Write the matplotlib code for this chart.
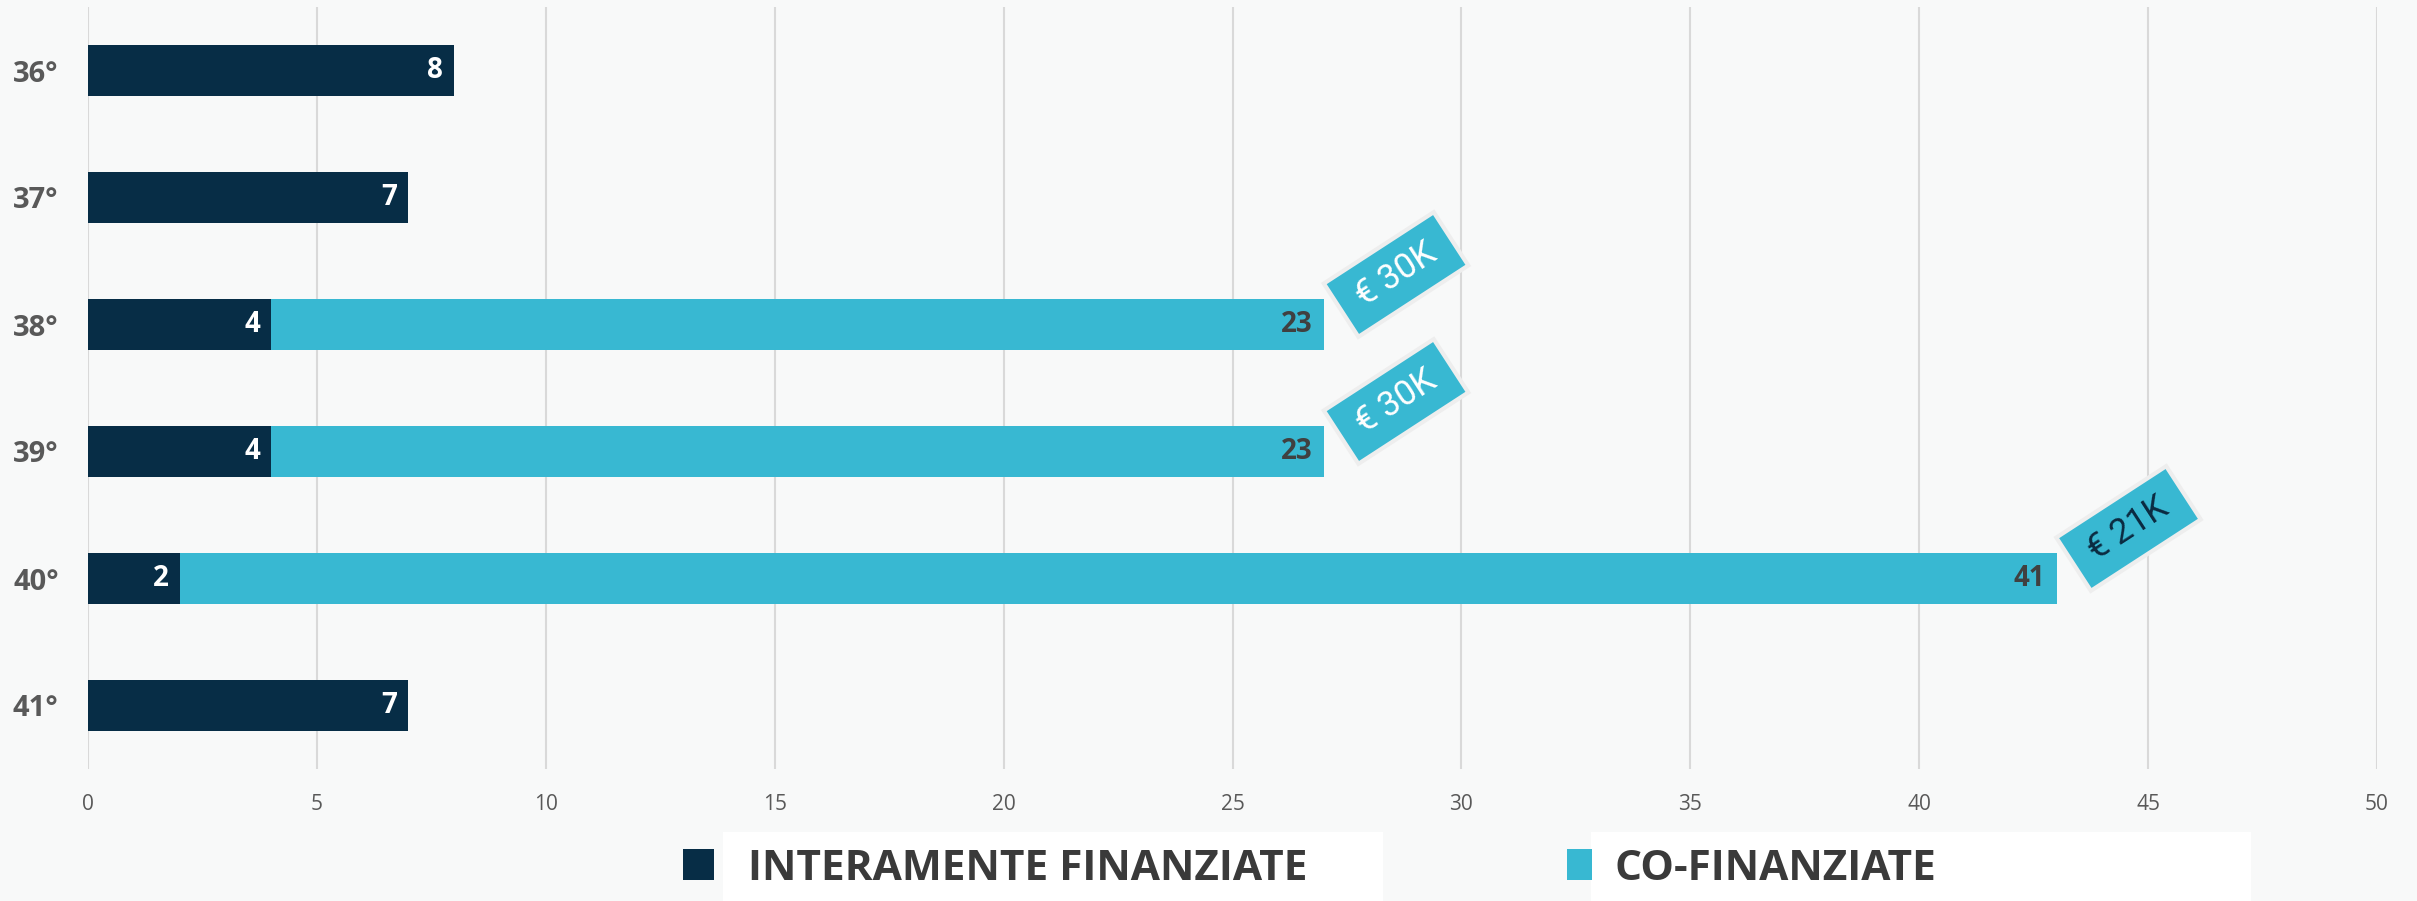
import numpy as np
import matplotlib.pyplot as plt
import matplotlib.transforms as mtransforms
from matplotlib.patches import Rectangle

# data
legislature = ['36°', '37°', '38°', '39°', '40°', '41°']
interamente = [8, 7, 4, 4, 2, 7]
co_finanziate = [0, 0, 23, 23, 41, 0]
tag_labels = ['', '', '€ 30K', '€ 30K', '€ 21K', '']
x_ticks = [0, 5, 10, 15, 20, 25, 30, 35, 40, 45, 50]

NAVY = '#072D46'
CYAN = '#38B8D2'
GRAY = '#595959'
DARK = '#3A3A3A'
BG = '#F8F9F9'

plt.rcParams['font.family'] = ['Open Sans', 'DejaVu Sans']

fig = plt.figure(figsize=(24.17, 9.01), dpi=100, facecolor=BG)
ax = fig.add_axes([88 / 2417, 1 - 769 / 901, (2377 - 88) / 2417, (769 - 7) / 901])
ax.set_facecolor('none')

# white panels behind the legend entries (part of the slide background)
for x0, x1 in [(723, 1383), (1591, 2251)]:
    fig.patches.append(Rectangle((x0 / 2417, 0), (x1 - x0) / 2417, 69 / 901,
                                 transform=fig.transFigure, fc='white', ec='none', zorder=-5))

y = np.arange(len(legislature))
inter = np.array(interamente)
co = np.array(co_finanziate)

b1 = ax.barh(y, inter, height=0.4, color=NAVY, zorder=3, label='INTERAMENTE FINANZIATE')
b2 = ax.barh(y, co, left=inter, height=0.4, color=CYAN, zorder=3, label='CO-FINANZIATE')

ax.set_xlim(0, 50)
ax.set_ylim(5.5, -0.5)
ax.set_xticks(x_ticks)
ax.set_yticks(y)
ax.set_yticklabels(legislature, fontsize=21, fontweight='bold', color=GRAY)
ax.tick_params(axis='y', length=0, pad=21)
ax.tick_params(axis='x', length=0, pad=18, labelsize=15, labelcolor=GRAY)
ax.grid(axis='x', color='#D9D9D9', lw=1.5, zorder=0)
for s in ax.spines.values():
    s.set_visible(False)

# value labels at the end of each segment
for i in range(len(y)):
    ax.annotate(str(inter[i]), (inter[i], y[i]), xytext=(-8, 0), textcoords='offset points',
                ha='right', va='center', fontsize=20, fontweight='bold', color='white', zorder=5)
    if co[i] > 0:
        ax.annotate(str(co[i]), (inter[i] + co[i], y[i]), xytext=(-8, 0), textcoords='offset points',
                    ha='right', va='center', fontsize=20, fontweight='bold', color='#404040', zorder=5)

# rotated price tags next to the co-financed bars
for i, lab in enumerate(tag_labels):
    if not lab:
        continue
    xe = inter[i] + co[i]
    base = mtransforms.ScaledTranslation(xe, y[i], ax.transData)
    off = mtransforms.Affine2D().translate(72, 50)
    tr = mtransforms.Affine2D().rotate_deg(33) + off + base
    tag = Rectangle((-65.5, -31.75), 131, 63.5, transform=tr, fc=CYAN, ec='#EEEEEE',
                    lw=3, clip_on=False, zorder=6)
    ax.add_patch(tag)
    txt_color = 'white' if '30' in lab else '#0B2A40'
    ax.text(0, 0, lab, transform=off + base, rotation=33, rotation_mode='anchor',
            ha='center', va='center', fontsize=25, color=txt_color, zorder=7,
            family=['Roboto', 'DejaVu Sans'])

# legend, one entry per panel
for handle, xa, hl, tp in [(b1, 683, 0.74, 0.8), (b2, 1567, 0.58, 0.55)]:
    fig.legend([handle], [handle.get_label()], loc='center left',
               bbox_to_anchor=(xa / 2417, 1 - 869 / 901), frameon=False,
               borderpad=0, borderaxespad=0, handlelength=hl, handleheight=0.74,
               handletextpad=tp, prop={'size': 30.5, 'weight': 'bold'},
               labelcolor=DARK)

fig.savefig('out.png', dpi=100, facecolor=BG)
